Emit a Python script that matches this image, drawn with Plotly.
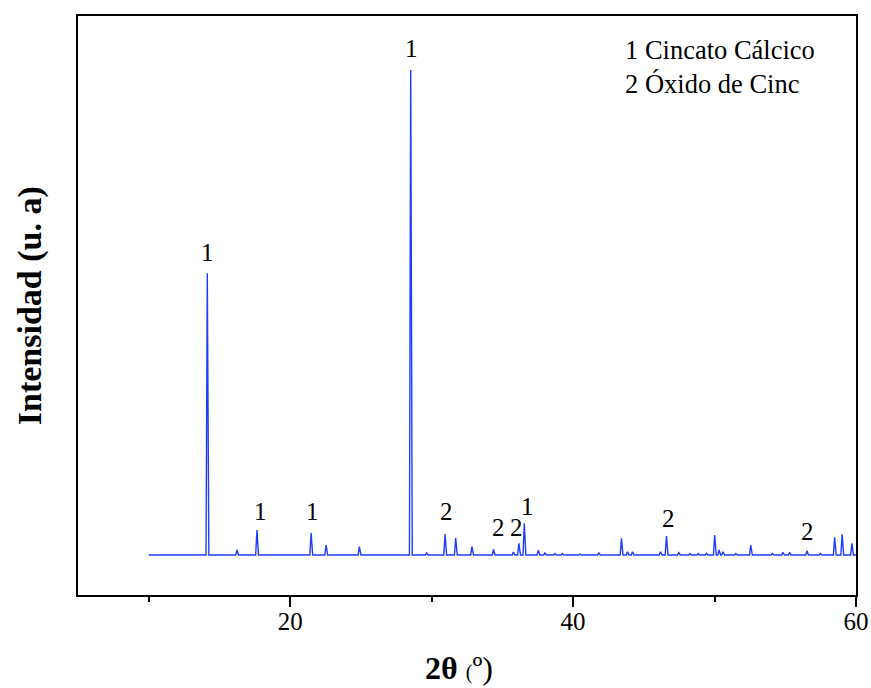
import plotly.graph_objects as go

# ---- data (2θ in degrees, intensity in arbitrary units) ----
scan_start = 10.0
scan_end = 60.0
baseline = 400

peak_pos = [14.14, 16.24, 17.65, 21.48, 22.54, 24.89, 28.52, 29.65, 30.95, 31.70,
            32.85, 34.37, 35.78, 36.17, 36.55, 37.54, 38.01, 38.71, 39.24, 40.48,
            41.82, 43.42, 43.85, 44.20, 46.18, 46.60, 47.47, 48.25, 48.84, 49.43,
            50.01, 50.32, 50.60, 51.50, 52.56, 54.09, 54.84, 55.31, 56.53, 57.48,
            58.49, 59.02, 59.71]
peak_int = [3217, 450, 650, 620, 500, 483, 5250, 420, 610, 570,
            483, 457, 430, 517, 717, 447, 420, 415, 415, 410,
            420, 567, 433, 433, 433, 590, 423, 415, 415, 417,
            600, 450, 433, 415, 500, 415, 427, 427, 443, 415,
            577, 607, 517]

label_x = [14.14, 17.88, 21.60, 28.55, 31.07, 34.76, 36.01, 36.76, 46.72, 56.60]
label_y = [3430, 840, 840, 5470, 840, 677, 677, 890, 767, 633]
label_text = ["1", "1", "1", "1", "2", "2", "2", "1", "2", "2"]

legend_lines = ["1 Cincato Cálcico", "2 Óxido de Cinc"]

x_ticks = [20, 40, 60]
x_minor_ticks = [10, 30, 50]
x_range = [5, 60]
y_range = [0, 5790]

# ---- build the pattern as a stick/triangle profile from the peak table ----
hw_l, hw_r = 0.09, 0.11
xs = [scan_start]
ys = [baseline]
for p, h in zip(peak_pos, peak_int):
    left = p - hw_l
    right = min(p + hw_r, scan_end)
    xs += [left, p, right]
    ys += [baseline, h, baseline if right < scan_end else (h + baseline) / 2]
if xs[-1] < scan_end:
    xs.append(scan_end)
    ys.append(baseline)

fig = go.Figure()
fig.add_trace(go.Scatter(x=xs, y=ys, mode="lines",
                         line=dict(color="rgb(30,60,255)", width=1.4),
                         showlegend=False, hoverinfo="skip"))

FONT = "Liberation Serif"
for lx, ly, lt in zip(label_x, label_y, label_text):
    fig.add_annotation(x=lx, y=ly, text=lt, showarrow=False,
                       font=dict(family=FONT, size=25, color="black"),
                       xanchor="center", yanchor="middle")

for i, t in enumerate(legend_lines):
    fig.add_annotation(xref="paper", yref="paper", x=0.701, y=[0.9413, 0.8826][i],
                       text=t, showarrow=False, xanchor="left", yanchor="middle",
                       font=dict(family=FONT, size=26.5, color="black"))

# axis titles
fig.add_annotation(xref="paper", yref="paper", x=-0.062, y=0.5,
                   text="<b>Intensidad (u. a)</b>", textangle=-90, showarrow=False,
                   xanchor="center", yanchor="middle",
                   font=dict(family=FONT, size=34, color="black"))
fig.add_annotation(xref="paper", yref="paper", x=0.49, y=-0.126,
                   text="<b>2θ</b> <span style='font-size:20px'>(</span>º)",
                   showarrow=False, xanchor="center", yanchor="middle",
                   font=dict(family=FONT, size=32, color="black"))

fig.update_xaxes(range=x_range, tickvals=x_ticks, ticks="outside", ticklen=10,
                 tickwidth=2, tickcolor="black", showline=True, linewidth=2,
                 linecolor="black", mirror=True, showgrid=False, zeroline=False,
                 automargin=False, ticklabelstandoff=-7,
                 tickfont=dict(family=FONT, size=25, color="black"),
                 minor=dict(tickvals=x_minor_ticks, ticks="outside", ticklen=5,
                            tickwidth=2, tickcolor="black", showgrid=False))
fig.update_yaxes(range=y_range, showticklabels=False, ticks="", showline=True,
                 linewidth=2, linecolor="black", mirror=True, showgrid=False,
                 zeroline=False, automargin=False)

fig.update_layout(width=871, height=688, margin=dict(l=78, r=15, t=16, b=93),
                  plot_bgcolor="white", paper_bgcolor="white")

fig.write_html("out.html")
